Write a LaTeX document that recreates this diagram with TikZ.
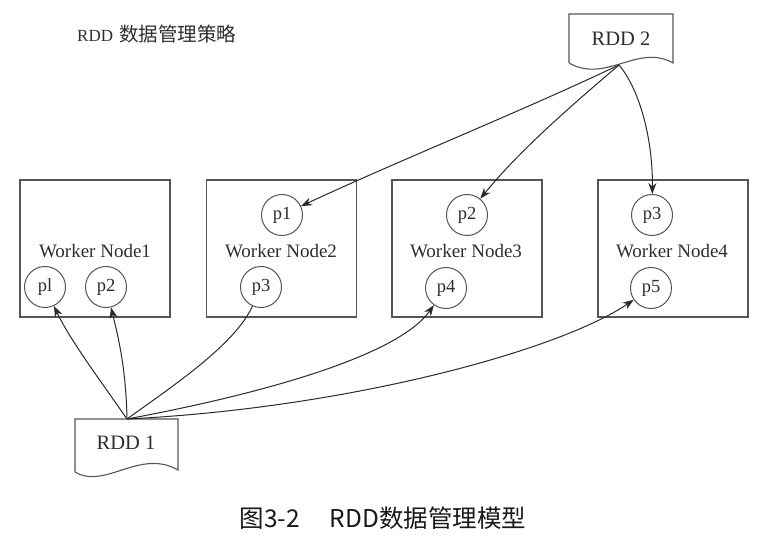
\documentclass[tikz,border=0pt]{standalone}
\usepackage{fontspec}
\setmainfont{Liberation Serif}
\newfontfamily\cjk{Noto Sans CJK SC}
\usetikzlibrary{arrows.meta}
\definecolor{boxgray}{HTML}{555555}
\definecolor{linegray}{HTML}{2A2A2A}
\definecolor{textgray}{HTML}{2E2E2E}
\tikzset{
  wbox/.style={draw=boxgray, line width=1.1pt, minimum width=150pt, minimum height=137pt, inner sep=0pt},
  pc/.style={circle, draw=boxgray, line width=1pt, minimum size=41pt, inner sep=0pt, text=textgray, font=\fontsize{18.5}{18.5}\selectfont},
  wlab/.style={text=textgray, font=\fontsize{19}{19}\selectfont, inner sep=0pt},
  doc/.style={draw=boxgray, line width=1.1pt},
  conn/.style={draw=linegray, line width=1pt},
  arr/.style={conn, -{Stealth[length=11pt,width=8pt]}}
}
\begin{document}
\begin{tikzpicture}[x=1pt,y=-1pt]
\useasboundingbox (0,0) rectangle (763,540);
\fill[white] (0,0) rectangle (763,540);

% title
\node[anchor=west, text=textgray, inner sep=0pt] (title) at (77,34)
  {\fontsize{17}{17}\selectfont RDD\hspace{6pt}{\cjk\fontsize{19.5}{19.5}\selectfont 数据管理策略}};

% worker boxes
\node[wbox] (w1) at (95,248.5) {};
\node[wbox] (w2) at (281.5,248.5) {};
\node[wbox] (w3) at (467,248.5) {};
\node[wbox] (w4) at (673,248.5) {};
\node[wlab] (l1) at (95,251) {Worker Node1};
\node[wlab] (l2) at (281,251) {Worker Node2};
\node[wlab] (l3) at (466,251) {Worker Node3};
\node[wlab] (l4) at (672,251) {Worker Node4};

% partitions
\node[pc] (a1) at (45,287) {pl};
\node[pc] (a2) at (106,287) {p2};
\node[pc] (b1) at (282,215) {p1};
\node[pc] (b3) at (261,287) {p3};
\node[pc] (c2) at (467,215) {p2};
\node[pc] (c4) at (446,288) {p4};
\node[pc] (d3) at (652,215) {p3};
\node[pc] (d5) at (651,288) {p5};

% RDD 2 document
\draw[doc] (569,63) -- (569,14) -- (673,14) -- (673,63)
  .. controls (638,43) and (606,84) .. (569,63);
\node[text=textgray, font=\fontsize{20.5}{20.5}\selectfont, inner sep=0pt] (rdd2) at (621,39) {RDD 2};
\coordinate (r2) at (619,65);

% RDD 1 document
\draw[doc] (75,472) -- (75,419) -- (178,419) -- (178,470)
  .. controls (140,448) and (105,490) .. (75,472);
\node[text=textgray, font=\fontsize{20.5}{20.5}\selectfont, inner sep=0pt] (rdd1) at (126,443) {RDD 1};
\coordinate (r1) at (127,419);

% arrows from RDD 2
\draw[arr] (r2) .. controls (520,112) and (400,160) .. (b1);
\draw[arr] (r2) .. controls (572,105) and (520,150) .. (c2);
\draw[arr] (r2) .. controls (640,90) and (653,140) .. (d3);

% arrows from RDD 1
\draw[arr] (r1) .. controls (100,380) and (70,340) .. (a1);
\draw[arr] (r1) .. controls (126,370) and (119,340) .. (a2);
\draw[conn] (b3) .. controls (235,345) and (170,388) .. (r1);
\draw[arr] (r1) .. controls (240,398) and (395,360) .. (c4);
\draw[arr] (r1) .. controls (350,408) and (560,350) .. (d5);

% caption
\node[text=black!90, font=\cjk\fontsize{24.5}{24.5}\selectfont, inner sep=0pt] (cap) at (383,518)
  {图3-2\hspace{30pt}RDD数据管理模型};
\end{tikzpicture}
\end{document}
